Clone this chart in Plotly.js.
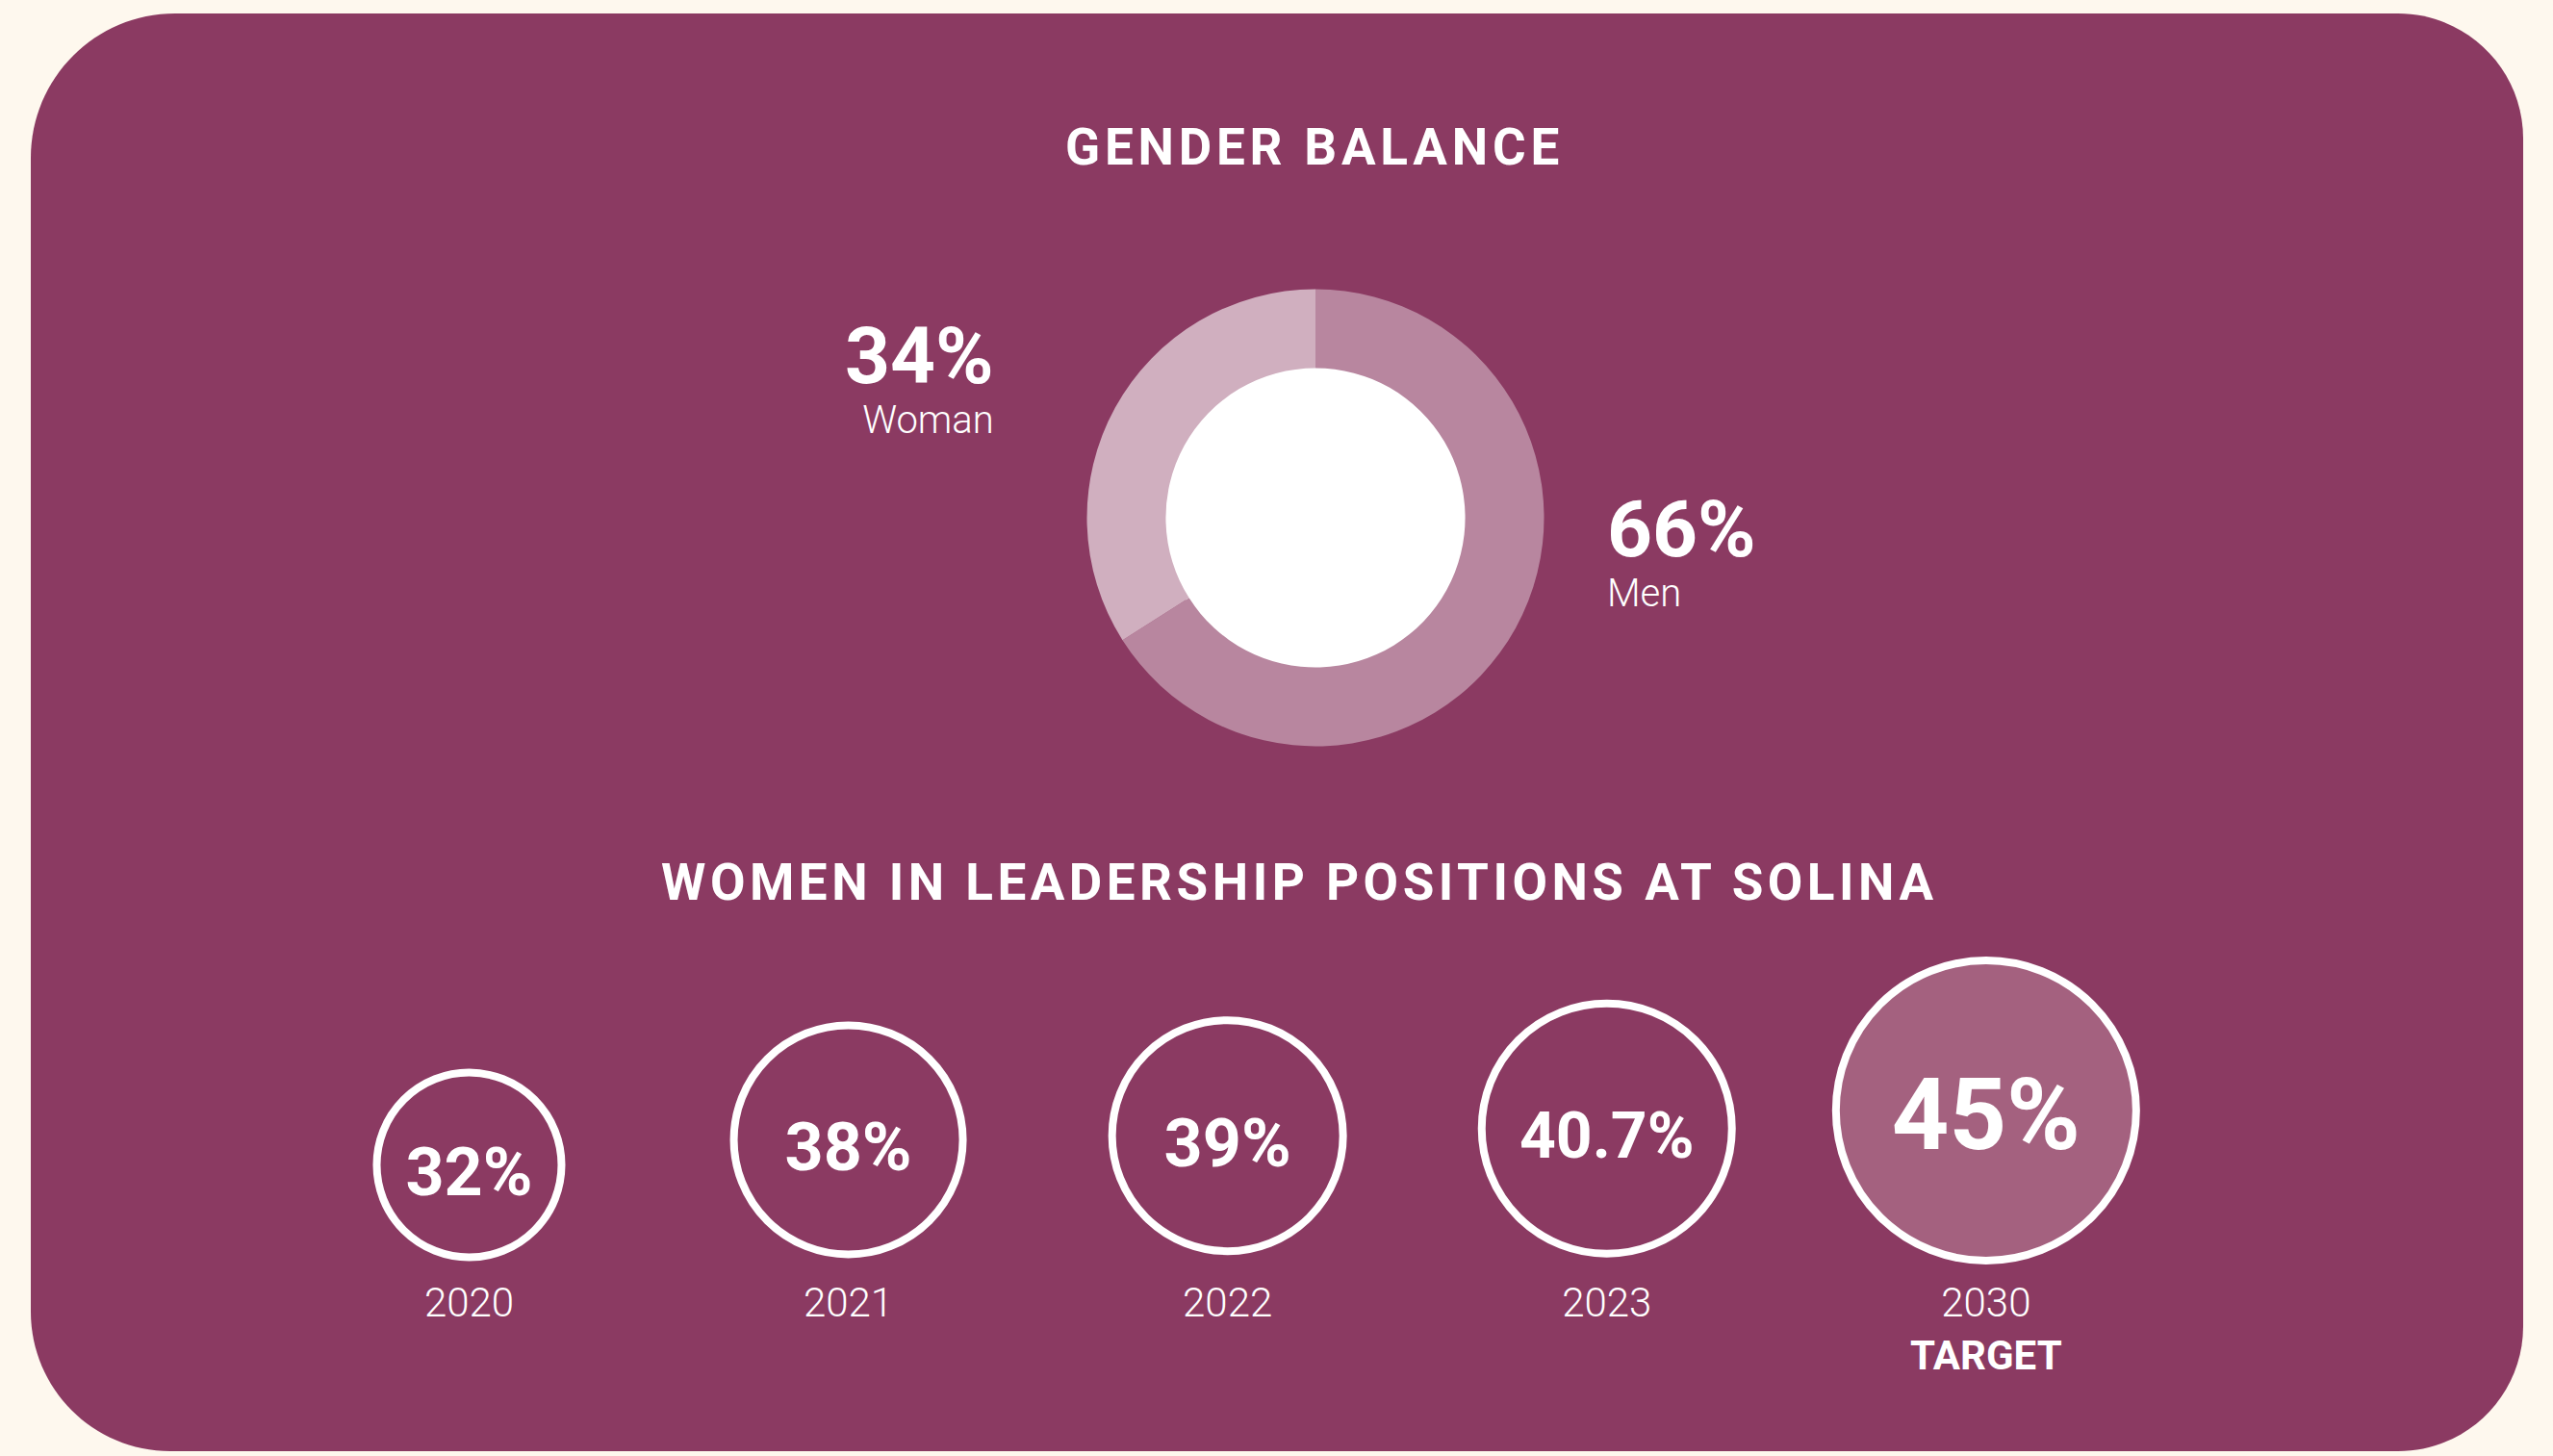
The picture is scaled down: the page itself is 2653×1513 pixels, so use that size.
<!DOCTYPE html>
<html>
<head>
<meta charset="utf-8">
<script src="https://cdn.plot.ly/plotly-3.0.1.min.js"></script>
<style>
html, body { margin: 0; padding: 0; background: #FEF8EE; }
#chart { width: 2653px; height: 1513px; }
text[data-unformatted*="GENDER BALANCE"] { letter-spacing: 4.8px; }
text[data-unformatted*="WOMEN IN LEADERSHIP"] { letter-spacing: 4.5px; }
</style>
</head>
<body>
<div id="chart"></div>
<script>
// ---- data ----
const genderLabels = ['Men', 'Woman'];
const genderValues = [66, 34];
const years = ['2020', '2021', '2022', '2023', '2030'];
const yearTickLabels = ['2020', '2021', '2022', '2023', '2030<br><b>TARGET</b>'];
const leadershipPct = [32, 38, 39, 40.7, 45];
const titleGender = 'GENDER BALANCE';
const titleLeadership = 'WOMEN IN LEADERSHIP POSITIONS AT SOLINA';

// ---- styling / layout constants ----
const W = 2653, H = 1513;
const PURPLE = '#8B3A62', CREAM = '#FEF8EE';
const FONT = 'Roboto, "Open Sans", sans-serif';
const px = x => x / W;
const py = y => 1 - y / H;

// donut geometry (pixels)
const donutC = [1367, 538], donutR = 237.5, holeFrac = 0.655;

// circle styling
const circleSizes = [192, 238, 240, 260, 312];
const circleFills = ['rgba(0,0,0,0)', 'rgba(0,0,0,0)', 'rgba(0,0,0,0)', 'rgba(0,0,0,0)', '#A4617F'];
const circleTextSizes = [70, 70, 70, 66, 104];
const yRange = [5.7, 89.6];
const textShift = 3.2; // small downward nudge of circle labels (axis units)

// rounded background panel path (paper coords)
function roundRect(x0, y0, x1, y1, rTL, rTR, rBR, rBL) {
  const k = 0.5523;
  const P = (x, y) => px(x).toFixed(5) + ',' + py(y).toFixed(5);
  return 'M' + P(x0 + rTL, y0) +
    ' L' + P(x1 - rTR, y0) +
    ' C' + P(x1 - rTR + k * rTR, y0) + ' ' + P(x1, y0 + rTR - k * rTR) + ' ' + P(x1, y0 + rTR) +
    ' L' + P(x1, y1 - rBR) +
    ' C' + P(x1, y1 - rBR + k * rBR) + ' ' + P(x1 - rBR + k * rBR, y1) + ' ' + P(x1 - rBR, y1) +
    ' L' + P(x0 + rBL, y1) +
    ' C' + P(x0 + rBL - k * rBL, y1) + ' ' + P(x0, y1 - rBL + k * rBL) + ' ' + P(x0, y1 - rBL) +
    ' L' + P(x0, y0 + rTL) +
    ' C' + P(x0, y0 + rTL - k * rTL) + ' ' + P(x0 + rTL - k * rTL, y0) + ' ' + P(x0 + rTL, y0) + ' Z';
}

const donut = {
  type: 'pie',
  labels: genderLabels,
  values: genderValues,
  hole: holeFrac,
  sort: false,
  direction: 'clockwise',
  rotation: 0,
  textinfo: 'none',
  hoverinfo: 'label+percent',
  showlegend: false,
  marker: { colors: ['#B8869F', '#D0AFBF'], line: { width: 0 } },
  domain: {
    x: [px(donutC[0] - donutR), px(donutC[0] + donutR)],
    y: [py(donutC[1] + donutR), py(donutC[1] - donutR)]
  }
};

const circles = {
  type: 'scatter',
  mode: 'markers',
  x: years,
  y: leadershipPct,
  marker: {
    symbol: 'circle',
    size: circleSizes,
    color: circleFills,
    opacity: 1,
    line: { color: '#FFFFFF', width: 8 }
  },
  cliponaxis: false,
  showlegend: false,
  hoverinfo: 'x+y'
};

const circleLabels = {
  type: 'scatter',
  mode: 'text',
  x: years,
  y: leadershipPct,
  yaxis: 'y2',
  text: leadershipPct.map(v => v + '%'),
  textposition: 'middle center',
  textfont: { family: FONT, size: circleTextSizes, color: '#FFFFFF', weight: 700 },
  cliponaxis: false,
  showlegend: false,
  hoverinfo: 'skip'
};

const holeR = donutR * holeFrac + 4;
const yDomain = [py(1325), py(960)];

const layout = {
  width: W, height: H,
  margin: { l: 0, r: 0, t: 0, b: 0 },
  paper_bgcolor: CREAM,
  plot_bgcolor: 'rgba(0,0,0,0)',
  showlegend: false,
  xaxis: {
    type: 'category',
    range: [-1.237, 5.495],
    domain: [0, 1],
    tickvals: years,
    ticktext: yearTickLabels,
    tickfont: { family: FONT, size: 42, color: '#FFFFFF', weight: 300 },
    ticks: '',
    showline: false, showgrid: false, zeroline: false,
    fixedrange: true
  },
  yaxis: {
    range: yRange,
    domain: yDomain,
    visible: false,
    showgrid: false, zeroline: false,
    fixedrange: true
  },
  yaxis2: {
    range: [yRange[0] + textShift, yRange[1] + textShift],
    overlaying: 'y',
    visible: false,
    showgrid: false, zeroline: false,
    fixedrange: true
  },
  shapes: [
    {
      type: 'path', xref: 'paper', yref: 'paper', layer: 'below',
      path: roundRect(32, 14, 2622, 1508, 150, 130, 130, 145),
      fillcolor: PURPLE, line: { width: 0 }
    },
    {
      type: 'circle', xref: 'paper', yref: 'paper', layer: 'below',
      x0: px(donutC[0] - holeR), x1: px(donutC[0] + holeR),
      y0: py(donutC[1] + holeR), y1: py(donutC[1] - holeR),
      fillcolor: '#FFFFFF', line: { width: 0 }
    }
  ],
  annotations: [
    {
      xref: 'paper', yref: 'paper', x: px(1366), y: py(153), xanchor: 'center', yanchor: 'middle',
      text: titleGender, showarrow: false,
      font: { family: FONT, size: 53, color: '#FFFFFF', weight: 700 }
    },
    {
      xref: 'paper', yref: 'paper', x: px(1350), y: py(917), xanchor: 'center', yanchor: 'middle',
      text: titleLeadership, showarrow: false,
      font: { family: FONT, size: 53, color: '#FFFFFF', weight: 700 }
    },
    {
      xref: 'paper', yref: 'paper', x: px(1035), y: py(391), xanchor: 'right', yanchor: 'middle',
      align: 'right',
      text: '<span style="font-size:82px;font-weight:bold">' + genderValues[1] + '%</span><br>' + genderLabels[1],
      showarrow: false,
      font: { family: FONT, size: 40, color: '#FFFFFF', weight: 300 }
    },
    {
      xref: 'paper', yref: 'paper', x: px(1668), y: py(571), xanchor: 'left', yanchor: 'middle',
      align: 'left',
      text: '<span style="font-size:82px;font-weight:bold">' + genderValues[0] + '%</span><br>' + genderLabels[0],
      showarrow: false,
      font: { family: FONT, size: 40, color: '#FFFFFF', weight: 300 }
    }
  ]
};

Plotly.newPlot('chart', [donut, circles, circleLabels], layout, { displayModeBar: false, staticPlot: true });
</script>
</body>
</html>
